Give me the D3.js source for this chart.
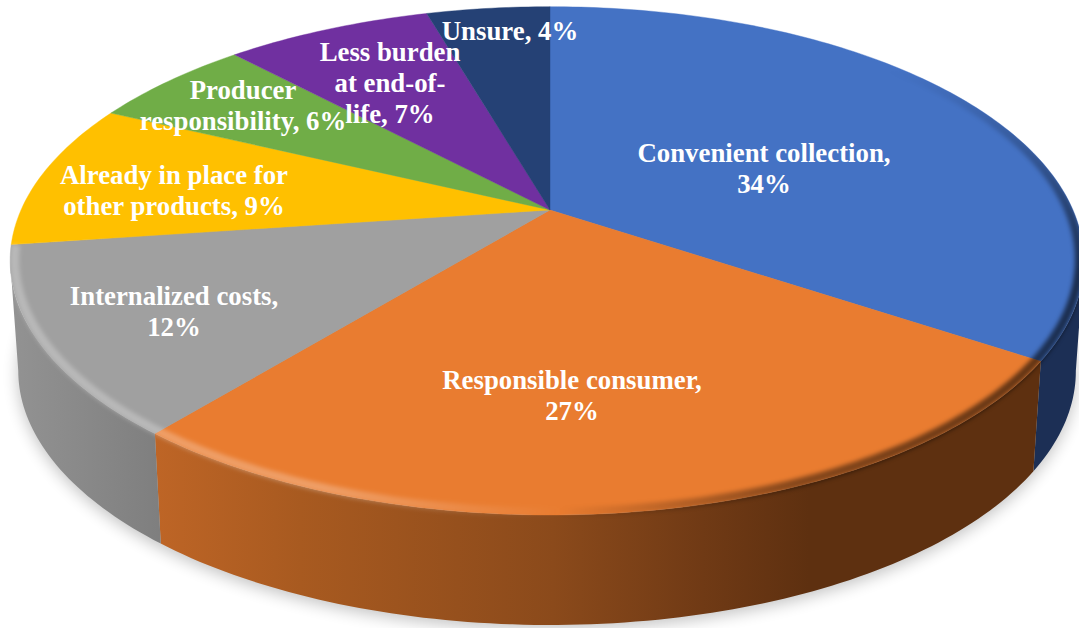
<!DOCTYPE html>
<html><head><meta charset="utf-8">
<script src="https://cdn.jsdelivr.net/npm/d3@7"></script>
<style>html,body{margin:0;padding:0;background:#fff;overflow:hidden}svg{display:block}</style>
</head><body><svg id="c" width="1079" height="628"></svg>
<script>
const categories = ["Convenient collection","Responsible consumer","Internalized costs","Already in place for other products","Producer responsibility","Less burden at end-of-life","Unsure"];
const values = [34.3,26.6,11.9,9.3,5.9,7.5,4.5];
const topColors = ["#4472C4","#E97C30","#A0A0A0","#FFC000","#70AD47","#7030A0","#254175"];
const sideColors = ["#1C2F55","url(#orangeSide)","url(#graySide)","#A87E00","#4A722E","#4A1F6A","#182B4E"];
const labelLines = [
  ["Convenient collection,","34%"],
  ["Responsible consumer,","27%"],
  ["Internalized costs,","12%"],
  ["Already in place for","other products, 9%"],
  ["Producer","responsibility, 6%"],
  ["Less burden","at end-of-","life, 7%"],
  ["Unsure, 4%"]];

// layout
const W=1079,H=628, cx=550, cy=210, persp=.2, By=244, Aa=526, Ab=-3, depth=110, shrink=.985;
const labelAnchors=[[764,153],[572,380],[174,296],[174,175],[243,90],[390,52],[510,31]];
const labelGap=31, fontSize=26.8;
const deg=Math.PI/180;

// perspective projection of a unit disc onto the picture
function project(theta,r=1,lower=false){
  const X=r*Math.sin(theta),Y=r*Math.cos(theta),s=1/(1+persp*Y);
  let x=(Aa*X+Ab*X*X)*s, y=-By*Y*s;
  if(lower){x*=shrink;y+=depth;}
  return [cx+x,cy+y];
}
const arcPts=(a0,a1,r,lower)=>{
  const n=Math.max(2,Math.ceil(Math.abs(a1-a0)/deg));
  return d3.range(n+1).map(i=>project(a0+(a1-a0)*i/n,r,lower));
};
const line=d3.line();
const arcs=d3.pie().sort(null).value(d=>d)(values);

// only the part of the wall between the two silhouette points faces the viewer
const wallFrom=Math.acos(-persp), wallTo=2*Math.PI-wallFrom;

const svg=d3.select("#c");
const defs=svg.append("defs");
const grad=(id,x1,x2,stops,y1=0,y2=0)=>{
  const g=defs.append("linearGradient").attr("id",id).attr("gradientUnits","userSpaceOnUse")
    .attr("x1",x1).attr("x2",x2).attr("y1",y1).attr("y2",y2);
  stops.forEach(s=>g.append("stop").attr("offset",s[0]).attr("stop-color",s[1]).attr("stop-opacity",s[2]===undefined?1:s[2]));
};
grad("orangeSide",155,1039,[[0,"#BE6526"],[.165,"#A85A20"],[.45,"#8B4A1B"],[.62,"#703A15"],[.74,"#5E3010"],[1,"#5E3010"]]);
grad("graySide",15,165,[[0,"#929292"],[1,"#7E7E7E"]]);
grad("rimLight",0,1079,[[0,"#fff",.26],[.3,"#fff",.26],[.52,"#fff",0]]);
grad("rimDark",560,1079,[[0,"#000",0],[.45,"#000",.42],[1,"#000",.6]]);
grad("rimFadeY",0,0,[[0,"#000"],[1,"#fff"]],70,270);
defs.append("filter").attr("id","blur8").attr("x","-10%").attr("y","-10%").attr("width","120%").attr("height","120%")
  .append("feGaussianBlur").attr("stdDeviation",8);
defs.append("filter").attr("id","blur2").attr("filterUnits","userSpaceOnUse").attr("x",-20).attr("y",-20).attr("width",1120).attr("height",680)
  .append("feGaussianBlur").attr("stdDeviation",2);
const disc=arcPts(0,2*Math.PI,1,false);
defs.append("clipPath").attr("id","body").append("path")
  .attr("d",line(disc)+"Z"+line(arcPts(wallFrom,wallTo,1,false).concat(arcPts(wallTo,wallFrom,1,true)))+"Z");
defs.append("mask").attr("id","rimMask").attr("maskUnits","userSpaceOnUse")
  .attr("x",0).attr("y",0).attr("width",W).attr("height",H)
  .append("rect").attr("width",W).attr("height",H).attr("fill","url(#rimFadeY)");

// soft shadow
svg.append("path").attr("d",line(arcPts(0,2*Math.PI,1,true))+"Z")
  .attr("transform","translate(0,4)").attr("fill","#000").attr("opacity",.24).attr("filter","url(#blur8)");

// side walls
svg.append("g").selectAll("path").data(arcs.filter(d=>d.endAngle>wallFrom&&d.startAngle<wallTo)).join("path")
  .attr("d",d=>{
    const a=Math.max(d.startAngle,wallFrom),b=Math.min(d.endAngle,wallTo);
    return line(arcPts(a,b,1,false).concat(arcPts(b,a,1,true)))+"Z";
  })
  .attr("fill",d=>sideColors[d.index]);

// top faces
svg.append("g").selectAll("path").data(arcs).join("path")
  .attr("d",d=>line([[cx,cy]].concat(arcPts(d.startAngle,d.endAngle,1,false)))+"Z")
  .attr("fill",(d,i)=>topColors[i]).attr("stroke",(d,i)=>topColors[i]).attr("stroke-width",.4);

// bevel along the rim: dark on the right, light on the left
const rim=svg.append("g").attr("clip-path","url(#body)");
rim.append("g").attr("mask","url(#rimMask)").append("path")
  .attr("d",line(arcPts(40*deg,186*deg,.992,false)))
  .attr("fill","none").attr("stroke","url(#rimDark)").attr("stroke-width",9).attr("filter","url(#blur2)");
rim.append("path")
  .attr("d",line(arcPts(176*deg,262*deg,.992,false)))
  .attr("fill","none").attr("stroke","url(#rimLight)").attr("stroke-width",9).attr("filter","url(#blur2)");

// labels
const lab=svg.append("g").attr("font-family","'Liberation Serif','Times New Roman',serif").attr("font-weight",700)
  .attr("font-size",fontSize).attr("fill","#fff").attr("text-anchor","middle");
labelLines.forEach((lines,i)=>{
  const t=lab.append("text").attr("data-category",categories[i]);
  lines.forEach((s,j)=>t.append("tspan").attr("x",labelAnchors[i][0]).attr("y",labelAnchors[i][1]+j*labelGap).attr("dy","0.35em").text(s));
});
</script></body></html>
